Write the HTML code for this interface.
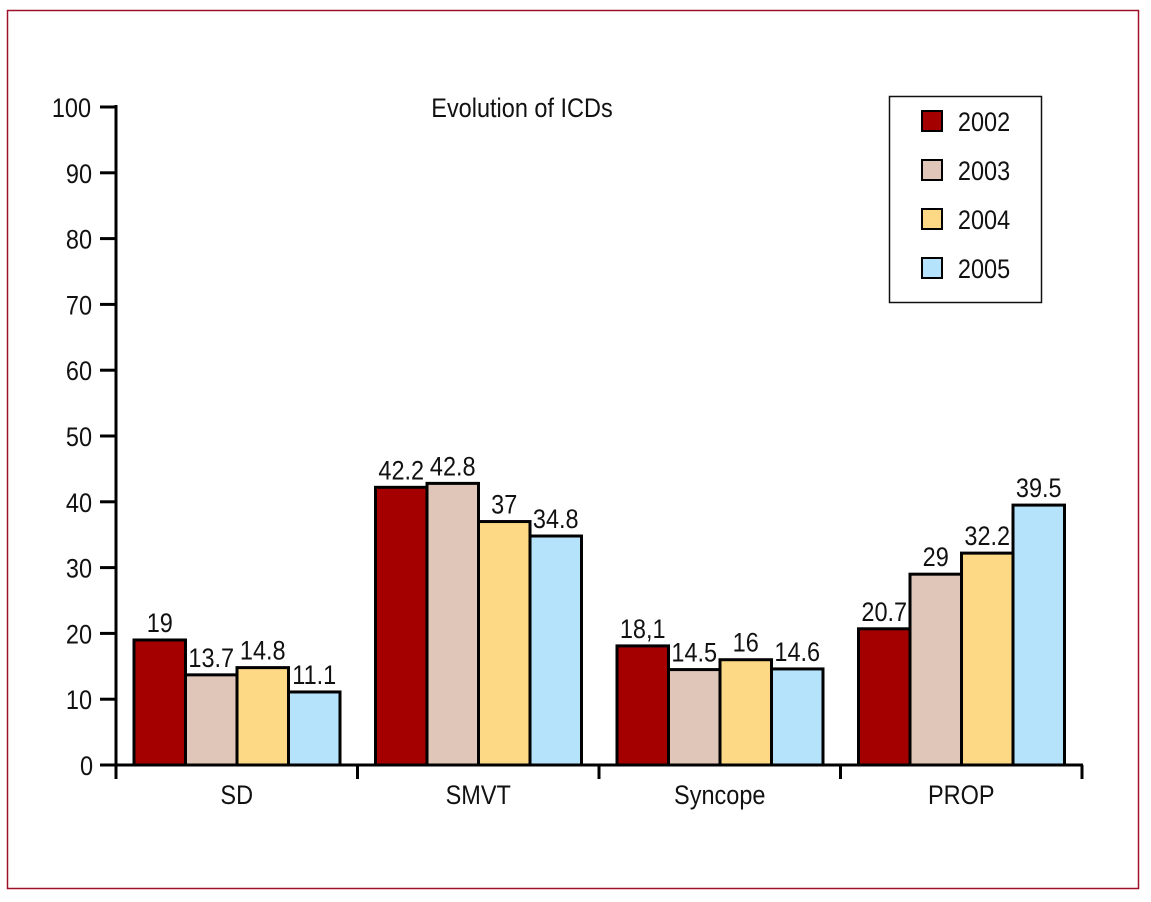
<!DOCTYPE html>
<html><head><meta charset="utf-8"><style>
html,body{margin:0;padding:0;background:#fff;}
svg{display:block;}
text{font-family:"Liberation Sans",sans-serif;fill:#111;transform-box:fill-box;transform-origin:center;transform:scaleX(0.87);}
</style></head><body>
<svg id="chart" width="1151" height="902" xmlns="http://www.w3.org/2000/svg">
<rect x="7.5" y="10.5" width="1131" height="878" fill="none" stroke="#a0102a" stroke-width="1.5"/>
<text x="522" y="117" font-size="27" text-anchor="middle">Evolution of ICDs</text>
<g id="plot"></g>
<g id="legend">
<rect x="889.5" y="96.5" width="152" height="206" fill="#fff" stroke="#111" stroke-width="1.5"/>
</g>
</svg>
<script>
const categories = ["SD","SMVT","Syncope","PROP"];
const years = ["2002","2003","2004","2005"];
const s2002 = [19,42.2,18.1,20.7];
const s2003 = [13.7,42.8,14.5,29];
const s2004 = [14.8,37,16,32.2];
const s2005 = [11.1,34.8,14.6,39.5];
const labels2002 = ["19","42.2","18,1","20.7"];
const labels2003 = ["13.7","42.8","14.5","29"];
const labels2004 = ["14.8","37","16","32.2"];
const labels2005 = ["11.1","34.8","14.6","39.5"];
const yTicks = [0,10,20,30,40,50,60,70,80,90,100];

const series = [s2002,s2003,s2004,s2005];
const seriesLabels = [labels2002,labels2003,labels2004,labels2005];
const colors = ["#a50000","#e0c6b9","#fdd985","#b5e3fb"];
const NS = "http://www.w3.org/2000/svg";
const x0 = 116, x1 = 1082, yBase = 765, yTop = 107;
const y = v => yBase - (v/100)*(yBase-yTop);
const groupW = (x1-x0)/categories.length;
const barW = 51.5, barOff = 18;
const FS = 27;
const plot = document.getElementById('plot');
function mk(tag, attrs){const e=document.createElementNS(NS,tag);for(const k in attrs)e.setAttribute(k,attrs[k]);return e;}

categories.forEach((c,ci)=>{
  series.forEach((s,si)=>{
    const bx = x0 + ci*groupW + barOff + si*barW;
    const r = mk('rect',{x:bx,y:y(s[ci]),width:barW,height:yBase-y(s[ci]),fill:colors[si],stroke:'#000','stroke-width':3});
    
    
    plot.appendChild(r);
    const t = mk('text',{x:bx+barW/2,y:y(s[ci])-8,'font-size':FS,'text-anchor':'middle'});
    t.textContent = seriesLabels[si][ci];
    
    
    plot.appendChild(t);
  });
  const xl = mk('text',{x:x0+ci*groupW+groupW/2,y:804,'font-size':FS,'text-anchor':'middle'});
  xl.textContent = c;
  
  
  plot.appendChild(xl);
});
const ya = mk('line',{x1:x0,y1:yTop-2,x2:x0,y2:yBase+14,stroke:'#000','stroke-width':3});


plot.appendChild(ya);
const xa = mk('line',{x1:x0,y1:yBase,x2:x1+1,y2:yBase,stroke:'#000','stroke-width':3});


plot.appendChild(xa);
for(let i=1;i<=categories.length;i++){
  const tk = mk('line',{x1:x0+i*groupW,y1:yBase,x2:x0+i*groupW,y2:yBase+14,stroke:'#000','stroke-width':3});
  
  
  plot.appendChild(tk);
}
yTicks.forEach(v=>{
  const tk = mk('line',{x1:x0-16,y1:y(v),x2:x0,y2:y(v),stroke:'#000','stroke-width':3});
  
  
  plot.appendChild(tk);
  const t = mk('text',{x:94,y:y(v)+10,'font-size':FS,'text-anchor':'end'});
  t.textContent = v;
  
  
  plot.appendChild(t);
});
const lg = document.getElementById('legend');
years.forEach((yr,i)=>{
  const sy = 111 + i*49;
  const sw = mk('rect',{x:922,y:sy,width:20,height:20,fill:colors[i],stroke:'#000','stroke-width':2});
  
  
  lg.appendChild(sw);
  const t = mk('text',{x:954,y:sy+20,'font-size':FS});
  t.textContent = yr;
  
  
  lg.appendChild(t);
});
</script>
</body></html>
